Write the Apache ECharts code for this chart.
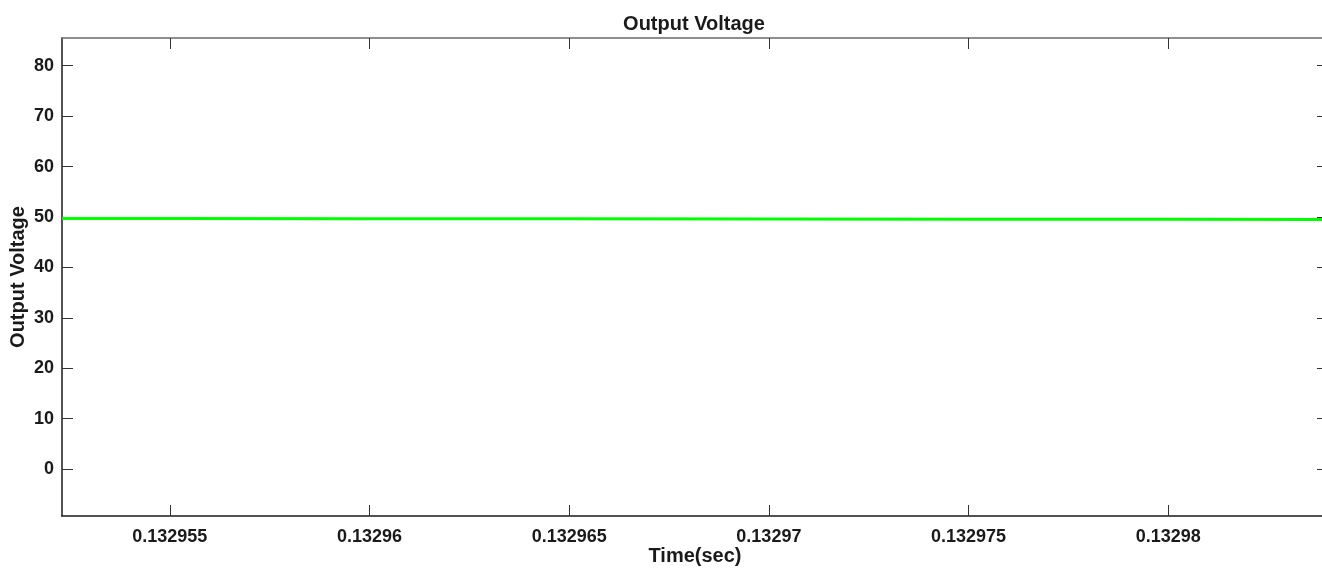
<!DOCTYPE html>
<html>
<head>
<meta charset="utf-8">
<script src="https://cdn.jsdelivr.net/npm/echarts@6/dist/echarts.min.js"></script>
<style>
html,body{margin:0;padding:0;background:#fff;}
#chart{width:1322px;height:573px;}
</style>
</head>
<body>
<div id="chart"></div>
<script>
// Data
const timeSec = [0.1329523, 0.132955, 0.13296, 0.132965, 0.13297, 0.132975, 0.13298, 0.132984];
const outputVoltage = [49.72, 49.70, 49.67, 49.64, 49.60, 49.57, 49.53, 49.50];
const xTickLabels = ['0.132955', '0.13296', '0.132965', '0.13297', '0.132975', '0.13298'];
const yTickLabels = ['0', '10', '20', '30', '40', '50', '60', '70', '80'];

const xTicks = xTickLabels.map(Number);
const yTicks = yTickLabels.map(Number);
const xMin = 0.1329523, xMax = 0.132984;
const yMin = -9.3, yMax = 85.5;

const font = 'Arial, "Liberation Sans", Helvetica, sans-serif';
const dark = '#1a1a1a';

const chart = echarts.init(document.getElementById('chart'), null, {renderer: 'canvas'});
const baseX = {
  type: 'value', min: xMin, max: xMax,
  splitLine: {show: false}
};
const baseY = {
  type: 'value', min: yMin, max: yMax,
  splitLine: {show: false}
};
chart.setOption({
  animation: false,
  backgroundColor: '#fff',
  title: {
    text: 'Output Voltage',
    left: 689, top: 9, textAlign: 'center',
    textStyle: {fontFamily: font, fontWeight: 'bold', fontSize: 20, color: dark}
  },
  grid: {left: 62, top: 38, width: 1266, height: 478, containLabel: false, outerBoundsMode: 'none'},
  xAxis: [
    Object.assign({}, baseX, {
      position: 'bottom',
      name: 'Time(sec)', nameLocation: 'middle', nameGap: 30, nameMoveOverlap: false,
      nameTextStyle: {fontFamily: font, fontWeight: 'bold', fontSize: 20, color: dark},
      axisLine: {show: true, onZero: false, lineStyle: {color: dark, width: 1.5}},
      axisTick: {show: true, inside: true, length: 11, customValues: xTicks, lineStyle: {color: '#333', width: 1}},
      axisLabel: {show: true, customValues: xTicks, margin: 12,
        formatter: v => { const i = xTicks.indexOf(v); return i >= 0 ? xTickLabels[i] : ''; },
        fontFamily: font, fontWeight: 'bold', fontSize: 18, color: dark}
    }),
    Object.assign({}, baseX, {
      position: 'top',
      axisLine: {show: true, onZero: false, lineStyle: {color: '#6a6a6a', width: 1.5}},
      axisTick: {show: true, inside: true, length: 11, customValues: xTicks, lineStyle: {color: '#333', width: 1}},
      axisLabel: {show: false}
    })
  ],
  yAxis: [
    Object.assign({}, baseY, {
      position: 'left',
      name: 'Output Voltage', nameLocation: 'middle', nameGap: 34, nameRotate: 90, nameMoveOverlap: false,
      nameTextStyle: {fontFamily: font, fontWeight: 'bold', fontSize: 20, color: dark},
      axisLine: {show: true, onZero: false, lineStyle: {color: dark, width: 1.5}},
      axisTick: {show: true, inside: true, length: 11, customValues: yTicks, lineStyle: {color: '#333', width: 1}},
      axisLabel: {show: true, customValues: yTicks, margin: 8,
        formatter: v => { const i = yTicks.indexOf(v); return i >= 0 ? yTickLabels[i] : ''; },
        fontFamily: font, fontWeight: 'bold', fontSize: 18, color: dark}
    }),
    Object.assign({}, baseY, {
      position: 'right',
      axisLine: {show: true, onZero: false, lineStyle: {color: dark, width: 1.5}},
      axisTick: {show: true, inside: true, length: 11, customValues: yTicks, lineStyle: {color: '#333', width: 1}},
      axisLabel: {show: false}
    })
  ],
  series: [{
    type: 'line',
    xAxisIndex: 0, yAxisIndex: 0,
    data: timeSec.map((t, i) => [t, outputVoltage[i]]),
    showSymbol: false,
    smooth: false,
    lineStyle: {color: '#00ff00', width: 3},
    itemStyle: {color: '#00ff00'}
  }]
});
</script>
</body>
</html>
